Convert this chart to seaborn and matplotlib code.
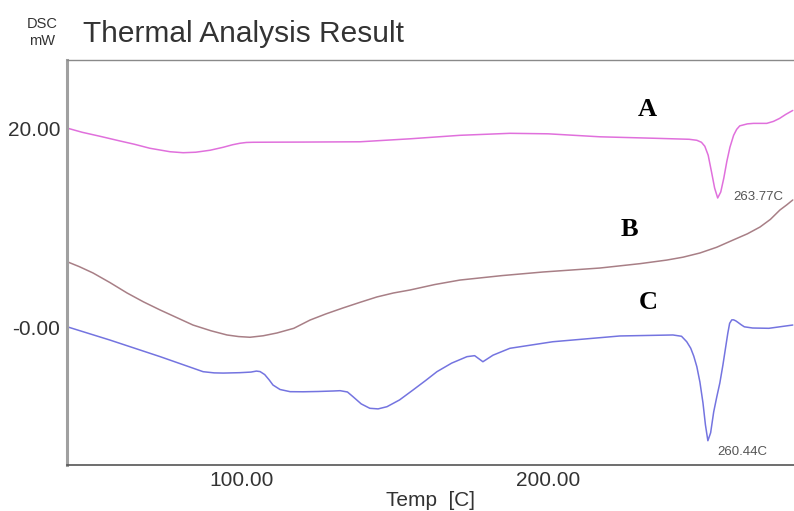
import numpy as np
import pandas as pd
import matplotlib
matplotlib.use("Agg")
import matplotlib.pyplot as plt
import seaborn as sns

# --- values ---
temp_a = [43.0, 48.0, 53.8, 60.0, 65.0, 70.0, 76.6, 80.9, 85.0, 89.7, 94.0, 97.0, 99.4,
          101.5, 103.7, 110.0, 120.0, 138.6, 155.0, 171.2, 187.5, 200.0, 216.9, 235.0,
          246.0, 248.5, 250.0, 251.1, 252.2, 253.3, 254.3, 255.3, 256.3, 257.3, 258.3,
          259.3, 260.5, 261.5, 262.5, 265.0, 267.0, 271.3, 273.5, 275.5, 277.5, 279.8]
dsc_a = [20.03, 19.6, 19.2, 18.75, 18.4, 18.0, 17.65, 17.55, 17.6, 17.8, 18.1, 18.35,
         18.5, 18.58, 18.6, 18.61, 18.62, 18.65, 18.95, 19.3, 19.5, 19.45, 19.15, 19.0,
         18.9, 18.8, 18.6, 18.2, 17.3, 15.6, 14.0, 13.0, 13.6, 15.0, 16.7,
         18.1, 19.3, 19.9, 20.25, 20.45, 20.5, 20.5, 20.7, 21.0, 21.4, 21.8]

temp_b = [43.0, 47.0, 51.5, 57.0, 62.6, 68.0, 73.4, 79.0, 84.1, 90.0, 95.2, 99.0, 102.7,
          107.0, 111.5, 117.0, 122.3, 127.5, 133.0, 138.5, 144.1, 149.5, 154.9, 163.0,
          171.2, 185.0, 198.3, 216.9, 230.0, 238.7, 244.0, 249.5, 255.0, 260.3, 265.0,
          269.1, 272.5, 275.6, 277.8, 279.8]
dsc_b = [6.6, 6.1, 5.46, 4.5, 3.45, 2.55, 1.74, 0.95, 0.23, -0.35, -0.77, -0.93, -1.0,
         -0.85, -0.57, -0.1, 0.73, 1.35, 1.94, 2.5, 3.05, 3.45, 3.75, 4.3,
         4.75, 5.2, 5.56, 5.96, 6.4, 6.76, 7.05, 7.47, 8.05, 8.77, 9.4,
         10.08, 10.85, 11.79, 12.3, 12.8]

temp_c = [43.0, 57.0, 73.4, 87.4, 91.0, 94.0, 99.4, 103.0, 104.8, 106.0, 107.5, 109.0,
          110.2, 112.5, 115.8, 120.0, 125.0, 130.0, 132.1, 134.5, 136.3, 139.0, 141.8,
          144.5, 147.4, 151.5, 155.9, 160.0, 163.7, 168.5, 173.5, 176.0, 178.7, 182.0,
          187.5, 201.5, 223.4, 240.7, 243.5, 245.2, 246.5, 247.5, 248.5, 249.5, 250.5,
          251.3, 252.1, 253.0, 254.0, 255.0, 256.0, 257.0, 257.8, 258.6, 259.2, 259.9,
          260.5, 261.2, 261.9, 263.0, 264.0, 266.7, 272.0, 279.8]
dsc_c = [0.06, -1.28, -2.95, -4.46, -4.58, -4.6, -4.56, -4.5, -4.4, -4.45, -4.75, -5.3,
         -5.8, -6.25, -6.47, -6.48, -6.45, -6.4, -6.37, -6.5, -6.97, -7.7, -8.14,
         -8.2, -7.98, -7.3, -6.3, -5.35, -4.46, -3.6, -2.95, -2.85, -3.46, -2.8,
         -2.11, -1.45, -0.87, -0.77, -0.9, -1.45, -2.1, -2.9, -3.96, -5.5, -7.6,
         -9.8, -11.4, -10.6, -8.5, -7.0, -5.6, -3.8, -2.2, -0.6, 0.4, 0.75,
         0.75, 0.65, 0.5, 0.25, 0.05, -0.07, -0.1, 0.23]

x_ticks = [100, 200]
x_tick_labels = ["100.00", "200.00"]
y_ticks = [0, 20]
y_tick_labels = ["-0.00", "20.00"]

curve_names = ["A", "B", "C"]
curve_colors = ["#e070dc", "#a87f86", "#7474e0"]

sns.set_style("white")
plt.rcParams["font.family"] = ["Liberation Sans", "DejaVu Sans"]

fig = plt.figure(figsize=(7.94, 5.11), dpi=100)
ax = fig.add_axes([67 / 794, 46 / 511, 727 / 794, 405 / 511])

for temps, vals, color in zip([temp_a, temp_b, temp_c], [dsc_a, dsc_b, dsc_c], curve_colors):
    df = pd.DataFrame({"temp": temps, "dsc": vals})
    sns.lineplot(data=df, x="temp", y="dsc", ax=ax, color=color, linewidth=1.1,
                 estimator=None, sort=False)

ax.set_xlim(43.0, 280.2)
ax.set_ylim(-13.84, 26.87)
ax.set_xticks(x_ticks, labels=x_tick_labels)
ax.set_yticks(y_ticks, labels=y_tick_labels)
ax.tick_params(axis="x", direction="in", length=5, labelsize=15, colors="#333333", pad=4)
ax.tick_params(axis="y", direction="out", length=4, labelsize=15, colors="#333333", pad=1)
ax.set_xlabel("Temp  [C]", fontsize=15, color="#333333", labelpad=1)
ax.set_ylabel("")

ax.spines["left"].set_color("#a0a0a0")
ax.spines["left"].set_linewidth(2.2)
ax.spines["top"].set_color("#8a8a8a")
ax.spines["top"].set_linewidth(1.0)
ax.spines["bottom"].set_color("#555555")
ax.spines["bottom"].set_linewidth(1.2)
ax.spines["right"].set_visible(False)

# curve letters
letter_pos = [(232.5, 21.94), (226.6, 9.88), (232.8, 2.54)]
for name, (tx, ty) in zip(curve_names, letter_pos):
    ax.text(tx, ty, name, fontsize=19, fontweight="bold", family="Liberation Serif",
            ha="center", va="center", color="black")

# peak annotations
ax.text(260.3, 13.1, "263.77C", fontsize=9.5, color="#555555", ha="left", va="center")
ax.text(255.1, -12.5, "260.44C", fontsize=9.5, color="#555555", ha="left", va="center")

fig.text(83 / 794, 1 - 41.7 / 511, "Thermal Analysis Result", fontsize=21.5,
         color="#333333", ha="left", va="baseline")
fig.text(42 / 794, 1 - 28.5 / 511, "DSC", fontsize=10.5, color="#333333", ha="center", va="baseline")
fig.text(42 / 794, 1 - 45 / 511, "mW", fontsize=10.5, color="#333333", ha="center", va="baseline")

fig.savefig("out.png", dpi=100)
